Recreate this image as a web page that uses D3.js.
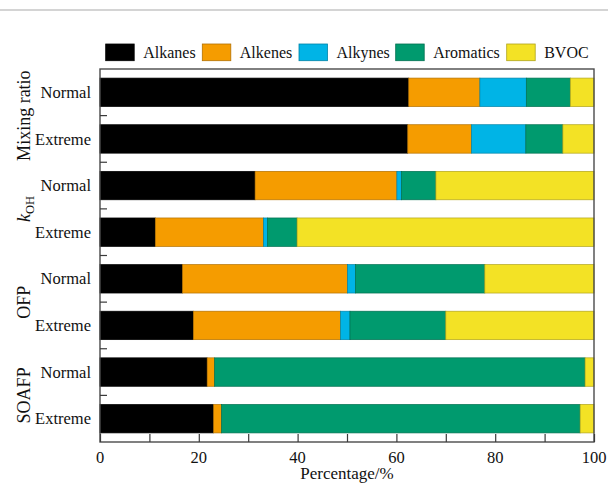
<!DOCTYPE html>
<html>
<head>
<meta charset="utf-8">
<script src="https://cdn.jsdelivr.net/npm/d3@7/dist/d3.min.js"></script>
<style>
  html, body { margin: 0; padding: 0; background: #fff; }
  svg text { font-family: "Liberation Serif", "Times New Roman", serif; fill: #111; }
</style>
</head>
<body>
<svg id="chart" width="608" height="487"></svg>
<script>
// Rows, top to bottom: metric group + condition
const rowGroups = ["Mixing ratio", "Mixing ratio", "kOH", "kOH", "OFP", "OFP", "SOAFP", "SOAFP"];
const rowLabels = ["Normal", "Extreme", "Normal", "Extreme", "Normal", "Extreme", "Normal", "Extreme"];

// Share (%) of each VOC class per row
const alkanes   = [62.5, 62.3, 31.4, 11.2, 16.7, 18.9, 21.7, 23.0];
const alkenes   = [14.4, 12.9, 28.7, 21.9, 33.4, 29.8,  1.5,  1.6];
const alkynes   = [ 9.4, 11.0,  0.9,  0.8,  1.6,  1.9,  0.0,  0.0];
const aromatics = [ 8.9,  7.5,  7.0,  6.0, 26.2, 19.4, 75.0, 72.6];
const bvoc      = [ 4.8,  6.3, 32.0, 60.1, 22.1, 30.0,  1.8,  2.8];

const seriesNames = ["Alkanes", "Alkenes", "Alkynes", "Aromatics", "BVOC"];
const seriesColors = ["#000000", "#f59c00", "#00b4e6", "#009a6e", "#f3e225"];
const xTicks = [0, 10, 20, 30, 40, 50, 60, 70, 80, 90, 100];
const xTickLabels = [0, 20, 40, 60, 80, 100];

const svg = d3.select("#chart");
const plotLeft = 100, plotRight = 594, plotTop = 69, plotBottom = 442;

const rows = rowLabels.map((lab, i) => ({
  id: i, label: lab, group: rowGroups[i],
  Alkanes: alkanes[i], Alkenes: alkenes[i], Alkynes: alkynes[i],
  Aromatics: aromatics[i], BVOC: bvoc[i]
}));

const x = d3.scaleLinear().domain([0, 100]).range([plotLeft, plotRight]);
const y = d3.scaleBand().domain(rows.map(d => d.id)).range([plotTop, plotBottom]).paddingInner(0.39).paddingOuter(0.195);
const color = d3.scaleOrdinal().domain(seriesNames).range(seriesColors);

// separator line across the page top
svg.append("rect").attr("x", 0).attr("y", 9).attr("width", 608).attr("height", 2).attr("fill", "#d4d4d4");

// stacked bars
const stacked = d3.stack().keys(seriesNames)(rows);
svg.append("g").selectAll("g").data(stacked).join("g")
  .attr("fill", d => color(d.key))
  .attr("stroke", d => d.key === "Alkanes" ? "#000" : d3.color(color(d.key)).darker(0.9))
  .attr("stroke-width", 0.7)
  .selectAll("rect").data(d => d.filter(s => s[1] - s[0] > 0)).join("rect")
  .attr("x", s => x(s[0]))
  .attr("width", s => x(s[1]) - x(s[0]))
  .attr("y", s => y(s.data.id))
  .attr("height", y.bandwidth());

// frame
svg.append("rect").attr("x", plotLeft).attr("y", plotTop).attr("width", plotRight - plotLeft).attr("height", plotBottom - plotTop)
  .attr("fill", "none").attr("stroke", "#4a4a4a").attr("stroke-width", 1.4);

// bottom axis with inward ticks
const xAxis = svg.append("g").attr("transform", `translate(0,${plotBottom})`)
  .call(d3.axisBottom(x).tickValues(xTicks).tickSize(-8).tickFormat(""));
xAxis.select(".domain").remove();
xAxis.selectAll(".tick line").attr("stroke", "#3a3a3a").attr("stroke-width", 1.2);

svg.append("g").selectAll("text").data(xTickLabels).join("text")
  .attr("x", d => x(d)).attr("y", 463)
  .attr("text-anchor", "middle").attr("font-size", 16.5)
  .text(d => d);

svg.append("text").attr("x", x(50)).attr("y", 479)
  .attr("text-anchor", "middle").attr("font-size", 17)
  .text("Percentage/%");

// left axis ticks between rows
const boundaries = d3.range(1, rows.length).map(i => plotTop + i * (plotBottom - plotTop) / rows.length);
svg.append("g").selectAll("line").data(boundaries).join("line")
  .attr("x1", plotLeft).attr("x2", plotLeft + 7)
  .attr("y1", d => d).attr("y2", d => d)
  .attr("stroke", "#3a3a3a").attr("stroke-width", 1.2);

// row labels
svg.append("g").selectAll("text").data(rows).join("text")
  .attr("x", 91).attr("y", d => y(d.id) + y.bandwidth() / 2 + 5.6)
  .attr("text-anchor", "end").attr("font-size", 16.5)
  .text(d => d.label);

// group labels, rotated
const groups = Array.from(new Set(rowGroups));
groups.forEach(g => {
  const ids = rows.filter(r => r.group === g).map(r => r.id);
  const cy = (y(ids[0]) + y(ids[ids.length - 1]) + y.bandwidth()) / 2;
  const t = svg.append("text")
    .attr("transform", `translate(30,${cy}) rotate(-90)`)
    .attr("text-anchor", "middle").attr("font-size", 18);
  if (g === "kOH") {
    t.append("tspan").attr("font-style", "italic").text("k");
    t.append("tspan").attr("font-size", 12.5).attr("dy", 4).text("OH");
  } else {
    t.text(g);
  }
});

// legend
const legendX = [105.7, 202.3, 299, 395.7, 506.7];
const lg = svg.append("g").selectAll("g").data(seriesNames).join("g")
  .attr("transform", (d, i) => `translate(${legendX[i]},44)`);
lg.append("rect").attr("width", 28.5).attr("height", 16.7)
  .attr("fill", d => color(d))
  .attr("stroke", d => d === "Alkanes" ? "#000" : d3.color(color(d)).darker(0.9))
  .attr("stroke-width", 0.8);
lg.append("text").attr("x", 37.5).attr("y", 14.3)
  .attr("font-size", 16).text(d => d);
</script>
</body>
</html>
